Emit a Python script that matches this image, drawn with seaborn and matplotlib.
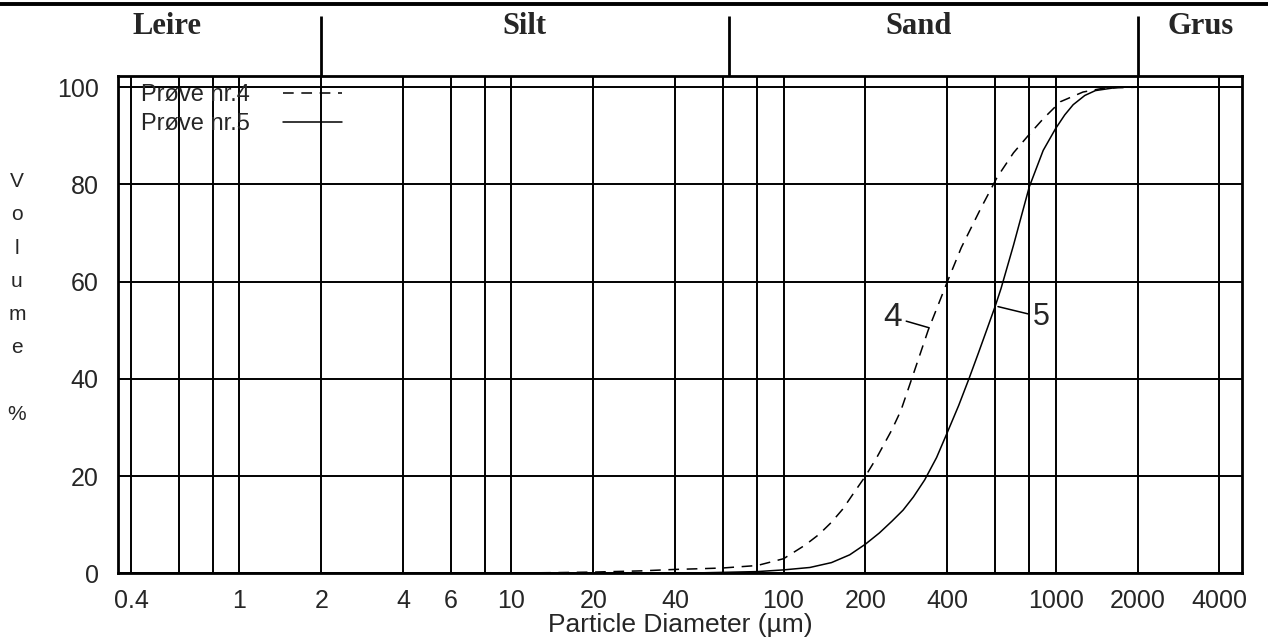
import seaborn as sns
import matplotlib.pyplot as plt
import matplotlib.ticker as mticker
from matplotlib.lines import Line2D
import pandas as pd

# kornfordeling, lest av figuren
d4 = [8, 10, 15, 20, 30, 40, 50, 60, 80, 100, 120, 135, 150, 165, 180, 200, 220, 250,
      270, 300, 340, 400, 450, 530, 610, 700, 800, 900, 1040, 1260, 1500, 2000, 4800]
v4 = [0, 0.05, 0.15, 0.25, 0.5, 0.8, 0.95, 1.1, 1.6, 3.0, 5.8, 8.0, 10.5, 13.2, 16.3, 20.0, 23.8, 29.5,
      33.5, 41.0, 50.0, 60.0, 67.0, 75.0, 81.5, 86.5, 90.3, 93.5, 97.0, 99.0, 99.8, 100, 100]
d5 = [30, 50, 80, 100, 125, 150, 175, 200, 225, 250, 275, 300, 330, 365, 400, 440, 480, 520, 560, 600, 630,
      700, 800, 900, 1000, 1080, 1160, 1280, 1400, 1700, 2000, 4800]
v5 = [0, 0.1, 0.35, 0.7, 1.2, 2.2, 3.8, 6.0, 8.3, 10.7, 13.0, 15.7, 19.2, 23.8, 29.0, 34.5, 40.0, 45.3, 50.3, 55.0, 58.6,
      67.5, 79.5, 87.0, 91.5, 94.3, 96.4, 98.3, 99.3, 100, 100, 100]
labels = ['Prøve nr.4', 'Prøve nr.5']

x_grid = [0.4, 0.6, 0.8, 1, 2, 4, 6, 8, 10, 20, 40, 60, 80, 100, 200, 400, 600, 800, 1000, 2000, 4000]
x_lab = ['0.4', '', '', '1', '2', '4', '6', '', '10', '20', '40', '', '', '100', '200', '400',
         '', '', '1000', '2000', '4000']
y_ticks = [0, 20, 40, 60, 80, 100]

klasser = ['Leire', 'Silt', 'Sand', 'Grus']
klasse_pos = [0.54, 11.2, 313, 3400]
grenser = [2, 63, 2000]

df = pd.concat([
    pd.DataFrame({'d': d4, 'v': v4, 'prove': labels[0]}),
    pd.DataFrame({'d': d5, 'v': v5, 'prove': labels[1]}),
], ignore_index=True)

sns.set_style('white')
plt.rcParams['font.family'] = ['Liberation Sans', 'DejaVu Sans']

fig = plt.figure(figsize=(12.68, 6.43), dpi=100)
ax = fig.add_axes([0.0933, 0.1084, 0.886, 0.7734])
ax_top = fig.add_axes([0.0933, 0.8818, 0.886, 0.1182], sharex=ax)

sns.lineplot(data=df, x='d', y='v', style='prove', style_order=labels,
             dashes={labels[0]: (7, 5), labels[1]: ''}, color='black',
             estimator=None, sort=False, lw=1.1, ax=ax)

ax.set_xscale('log')
ax.set_xlim(0.359, 4830)
ax.set_ylim(0, 102.3)
ax.xaxis.set_major_locator(mticker.FixedLocator(x_grid))
ax.xaxis.set_major_formatter(mticker.FixedFormatter(x_lab))
ax.xaxis.set_minor_locator(mticker.NullLocator())
ax.set_yticks(y_ticks)
ax.grid(True, color='black', lw=1.4)
ax.tick_params(axis='x', direction='out', length=9.5, width=1.4, labelsize=18, pad=2, color='black')
ax.tick_params(axis='y', direction='out', length=12, width=1.4, labelsize=18, pad=2, color='black')
for s in ax.spines.values():
    s.set_color('black')
    s.set_linewidth(2)
ax.set_xlabel('Particle Diameter (µm)', fontsize=19, labelpad=0)
ax.set_ylabel('')

sns.move_legend(ax, 'upper left', bbox_to_anchor=(0.008, 1.012), frameon=False, title=None,
                markerfirst=False, fontsize=17, handlelength=2.5, handletextpad=1.4,
                labelspacing=0.3, borderaxespad=0.2)
for h in ax.get_legend().legend_handles:
    h.set_linewidth(1.1)

# håndskrevne merker
ax.annotate('4', xy=(343, 50.5), xytext=(251, 52.7), ha='center', va='center', fontsize=24,
            arrowprops=dict(arrowstyle='-', color='black', lw=1.1, shrinkA=1, shrinkB=0))
ax.annotate('5', xy=(600, 55), xytext=(886, 52.7), ha='center', va='center', fontsize=22,
            arrowprops=dict(arrowstyle='-', color='black', lw=1.1, shrinkA=1, shrinkB=2))

# klasser over diagrammet
ax_top.set_ylim(0, 1)
ax_top.axis('off')
ax_top.vlines(grenser, 0, 0.79, color='black', lw=2)
for navn, xp in zip(klasser, klasse_pos):
    ax_top.text(xp, 0.645, navn, ha='center', va='center', fontsize=22, fontweight='bold',
                family=['Liberation Serif', 'DejaVu Serif'])
fig.add_artist(Line2D([0, 1], [0.994, 0.994], transform=fig.transFigure, color='black', lw=2.8))

fig.text(0.0134, 0.5365, 'V\no\nl\nu\nm\ne\n\n%', ha='center', va='center', fontsize=15,
         linespacing=1.95)

fig.savefig('out.png', dpi=100)
